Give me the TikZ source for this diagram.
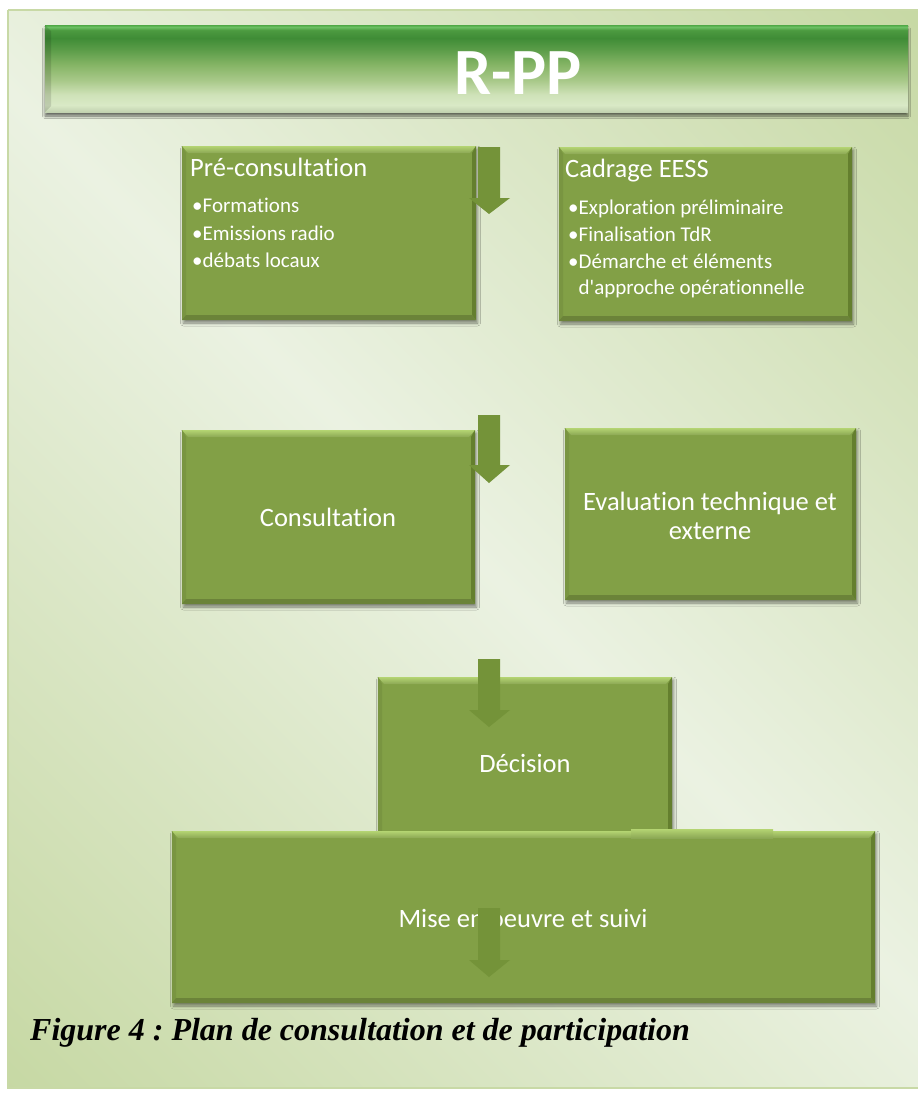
\documentclass[tikz,border=0pt]{standalone}
\usepackage{fontspec}
\setmainfont{Carlito}[RawFeature={-liga,-clig}]
\newfontfamily\captionfont{Liberation Serif}
\usetikzlibrary{calc,shadows.blur}
\frenchspacing

\definecolor{boxgreen}{HTML}{82A046}
\definecolor{arrowgreen}{HTML}{749339}
\definecolor{bevellight}{HTML}{B4D472}
\definecolor{beveldark}{HTML}{647F2E}
\definecolor{framedark}{HTML}{C6D8A3}
\definecolor{framelight}{HTML}{EBF2E2}
\definecolor{frameline}{HTML}{C8D9A6}

% title bar colours, bottom to top
\definecolor{barA}{HTML}{C2D2B0}
\definecolor{barB}{HTML}{D9E9C6}
\definecolor{barC}{HTML}{CFE2B8}
\definecolor{barD}{HTML}{A9C98A}
\definecolor{barE}{HTML}{86B566}
\definecolor{barF}{HTML}{5A9C48}
\definecolor{barG}{HTML}{3F8C36}
\definecolor{barH}{HTML}{4C9A40}
\definecolor{barI}{HTML}{6CC064}
\definecolor{barJ}{HTML}{4FA846}

% pale page panel: greener towards bottom-left and top-right
\pgfdeclarehorizontalshading{panelshade}{100bp}{%
  color(0bp)=(framedark); color(14bp)=(framedark); color(50bp)=(framelight);
  color(86bp)=(framedark); color(100bp)=(framedark)}

% glossy title bar
\pgfdeclareverticalshading{bannershade}{100bp}{%
  color(0bp)=(barA); color(25bp)=(barA);
  color(29bp)=(barB); color(35bp)=(barC);
  color(43bp)=(barD); color(52bp)=(barE);
  color(61bp)=(barF); color(67.5bp)=(barG);
  color(72bp)=(barH); color(73.8bp)=(barI);
  color(75bp)=(barJ); color(100bp)=(barJ)}

\tikzset{
  x=1pt, y=-1pt,
  stepbox/.style={rectangle, inner sep=0pt, fill=boxgreen,
    minimum width=#1,
    blur shadow={shadow xshift=1.5pt, shadow yshift=-3pt,
      shadow blur radius=3pt, shadow opacity=45},
    path picture={
      \coordinate (pNW) at (path picture bounding box.north west);
      \coordinate (pNE) at (path picture bounding box.north east);
      \coordinate (pSW) at (path picture bounding box.south west);
      \coordinate (pSE) at (path picture bounding box.south east);
      % top bevel
      \shade[top color=bevellight, bottom color=boxgreen!92!white]
        (pNW) -- (pNE) -- ($(pNE)+(-6pt,-7pt)$) -- ($(pNW)+(6pt,-7pt)$) -- cycle;
      % left bevel
      \fill[boxgreen!93!black]
        (pNW) -- ($(pNW)+(4pt,-7pt)$) -- ($(pSW)+(4pt,5pt)$) -- (pSW) -- cycle;
      % right bevel
      \fill[beveldark]
        (pNE) -- ($(pNE)+(-4pt,-7pt)$) -- ($(pSE)+(-4pt,5pt)$) -- (pSE) -- cycle;
      % bottom bevel
      \fill[boxgreen!82!black]
        (pSW) -- ($(pSW)+(4pt,5pt)$) -- ($(pSE)+(-4pt,5pt)$) -- (pSE) -- cycle;
    }},
  stepbox/.default=100pt,
  boxtext/.style={text=white, inner sep=0pt, font=\fontsize{26.5}{29}\selectfont},
  bullettext/.style={text=white, inner sep=0pt, anchor=base west,
    font=\fontsize{21}{25}\selectfont},
  blockarrow/.style={fill=arrowgreen}
}

% downward block arrow: centre x, top y, head y, tip y
\newcommand\blockdown[4]{%
  \fill[blockarrow] (#1-11,#2) -- (#1+11,#2) -- (#1+11,#3) -- (#1+21,#3)
    -- (#1,#4) -- (#1-20,#3) -- (#1-11,#3) -- cycle;}

\newcommand\bul{\makebox[10.5pt][l]{\textbullet}}

\begin{document}
\begin{tikzpicture}
\useasboundingbox (0,0) rectangle (918,1095);
\fill[white] (0,0) rectangle (918,1095);

% panel
\shade[shading=panelshade, shading angle=45] (8,10) rectangle (925,1088);
\draw[frameline, line width=1.5pt] (8,10) -- (8,1088) -- (925,1088);
\draw[frameline, line width=1.5pt] (8,10) -- (925,10);

% title bar
\shade[shading=bannershade,
  blur shadow={shadow xshift=0pt, shadow yshift=-4pt, shadow blur radius=2.5pt, shadow opacity=55}]
  (45,25) rectangle (908,112);
\fill[black, opacity=0.12] (45,25) -- (51,31) -- (51,106) -- (45,112) -- cycle;
\node[text=white, inner sep=0pt, anchor=base,
  font=\fontsize{66}{70}\selectfont\bfseries] (title) at (518,94) {R-PP};

% first row
\node[stepbox=294pt, minimum height=174pt] (pre) at (329,233) {};
\node[stepbox=293pt, minimum height=174pt] (cad) at (705.5,234) {};

\node[boxtext, anchor=base west] (preh) at (190,176) {Pré-consultation};
\node[bullettext] (pre1) at (192,212) {\bul Formations};
\node[bullettext] (pre2) at (192,240) {\bul Emissions radio};
\node[bullettext] (pre3) at (192,267) {\bul débats locaux};

\node[boxtext, anchor=base west] (cadh) at (565,177) {Cadrage EESS};
\node[bullettext] (cad1) at (568,214) {\bul Exploration préliminaire};
\node[bullettext] (cad2) at (568,241) {\bul Finalisation TdR};
\node[bullettext] (cad3) at (568,268) {\bul Démarche et éléments};
\node[bullettext] (cad4) at (578.5,294) {d\textquotesingle approche opérationnelle};

% second row
\node[stepbox=293pt, minimum height=174pt] (cons) at (328.5,517) {};
\node[stepbox=291pt, minimum height=172pt] (eval) at (710.5,514) {};
\node[boxtext, anchor=base] (const) at (328,526) {Consultation};
\node[boxtext, align=center] (evalt) at (710,516)
  {Evaluation technique et\\externe};

% decision and follow-up
\node[stepbox=294pt, minimum height=160pt] (dec) at (525,757) {};
\node[boxtext, anchor=base] (dect) at (525,772) {Décision};

\node[stepbox=703pt, minimum height=172pt] (mise) at (523.5,917) {};
\shade[top color=bevellight, bottom color=boxgreen!92!white]
  (631,829) rectangle (773,838);
\node[boxtext, anchor=base] (miset) at (523,927) {Mise en oeuvre et suivi};

% flow arrows
\blockdown{489}{147}{198}{214}
\blockdown{489}{415}{465}{483}
\blockdown{489}{659}{710}{727}
\blockdown{489}{908}{960}{977}

% caption
\node[inner sep=0pt, anchor=base west,
  font=\captionfont\bfseries\itshape\fontsize{32}{36}\selectfont] (cap) at (30,1040)
  {Figure 4 : Plan de consultation et de participation};
\end{tikzpicture}
\end{document}
